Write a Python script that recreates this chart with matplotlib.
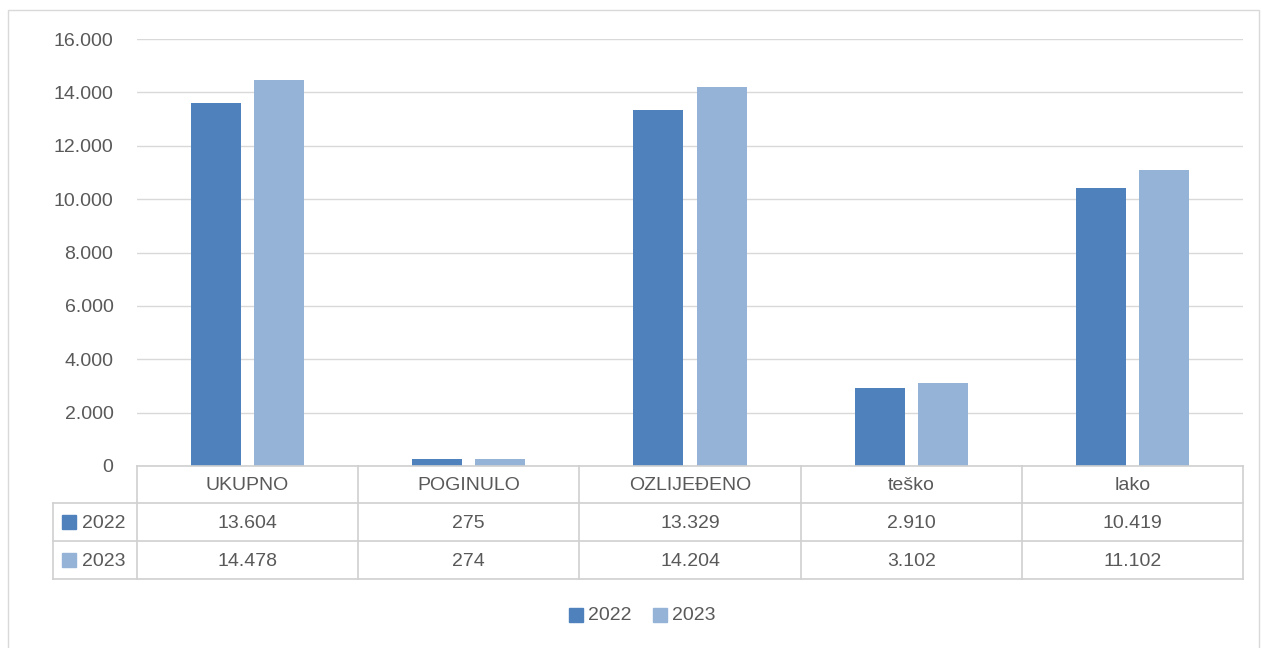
import matplotlib.pyplot as plt
import numpy as np
from matplotlib.patches import Rectangle

# road accident casualties by category
categories = ['UKUPNO', 'POGINULO', 'OZLIJEĐENO', 'teško', 'lako']
years = ['2022', '2023']
vals_2022 = [13604, 275, 13329, 2910, 10419]
vals_2023 = [14478, 274, 14204, 3102, 11102]
yticks = [0, 2000, 4000, 6000, 8000, 10000, 12000, 14000, 16000]

col_2022 = '#4F81BD'
col_2023 = '#95B3D7'
txt = '#595959'
grid = '#D9D9D9'

plt.rcParams['font.family'] = ['Liberation Sans', 'DejaVu Sans']
FS = 14

W, H = 1262, 648
fig = plt.figure(figsize=(W / 100, H / 100), dpi=100)

def fx(px):
    return px / W

def fy(py):
    return 1 - py / H

# plot area in pixels
x0, x1 = 137, 1243
ytop, ybot = 39, 466
ax = fig.add_axes([fx(x0), fy(ybot), fx(x1 - x0), (ybot - ytop) / H])

x = np.arange(len(categories))
bw = 0.226
off = 0.143
ax.bar(x - off, vals_2022, bw, color=col_2022, zorder=3)
ax.bar(x + off, vals_2023, bw, color=col_2023, zorder=3)

ax.set_xlim(-0.5, len(categories) - 0.5)
ax.set_ylim(0, 16000)
ax.set_yticks(yticks)
ax.set_yticklabels([f'{v:,}'.replace(',', '.') for v in yticks])
ax.tick_params(axis='y', length=0, pad=17, labelsize=FS, labelcolor=txt)
ax.set_xticks([])
ax.grid(axis='y', color=grid, linewidth=1, zorder=0)
for s in ax.spines.values():
    s.set_visible(False)

# outer chart frame
fig.patches.append(Rectangle((fx(8), fy(660)), fx(1251), (660 - 10) / H,
                             transform=fig.transFigure, fill=False,
                             edgecolor='#D9D9D9', linewidth=1))

# data table under the plot
line_c = '#D0D0D0'
rows = [466, 503, 541, 579]
colw = (x1 - x0) / len(categories)
bounds = [x0 + i * colw for i in range(len(categories) + 1)]

def hline(y, xa, xb):
    fig.add_artist(plt.Line2D([fx(xa), fx(xb)], [fy(y), fy(y)], color=line_c, lw=1.2))

def vline(xp, ya, yb):
    fig.add_artist(plt.Line2D([fx(xp), fx(xp)], [fy(ya), fy(yb)], color=line_c, lw=1.2))

hline(rows[0], x0, x1)
for r in rows[1:]:
    hline(r, 53, x1)
for b in bounds:
    vline(b, rows[0], rows[3])
vline(53, rows[1], rows[3])

def fmt(v):
    return f'{v:,}'.replace(',', '.')

for i, c in enumerate(categories):
    cx = (bounds[i] + bounds[i + 1]) / 2
    fig.text(fx(cx), fy((rows[0] + rows[1]) / 2 + 1), c, ha='center', va='center',
             fontsize=FS, color=txt)
    fig.text(fx(cx), fy((rows[1] + rows[2]) / 2 + 1), fmt(vals_2022[i]), ha='center',
             va='center', fontsize=FS, color=txt)
    fig.text(fx(cx), fy((rows[2] + rows[3]) / 2 + 1), fmt(vals_2023[i]), ha='center',
             va='center', fontsize=FS, color=txt)

# series keys in the table
for r, yr, col in [(1, years[0], col_2022), (2, years[1], col_2023)]:
    cy = (rows[r] + rows[r + 1]) / 2
    fig.patches.append(Rectangle((fx(62), fy(cy + 7)), fx(14), 14 / H,
                                 transform=fig.transFigure, color=col))
    fig.text(fx(82), fy(cy + 1), yr, ha='left', va='center', fontsize=FS, color=txt)

# legend
lx = [569, 653]
for xp, yr, col in zip(lx, years, [col_2022, col_2023]):
    fig.patches.append(Rectangle((fx(xp), fy(622)), fx(14), 14 / H,
                                 transform=fig.transFigure, color=col))
    fig.text(fx(xp + 19), fy(615), yr, ha='left', va='center', fontsize=FS, color=txt)

fig.savefig('out.png', dpi=100)
